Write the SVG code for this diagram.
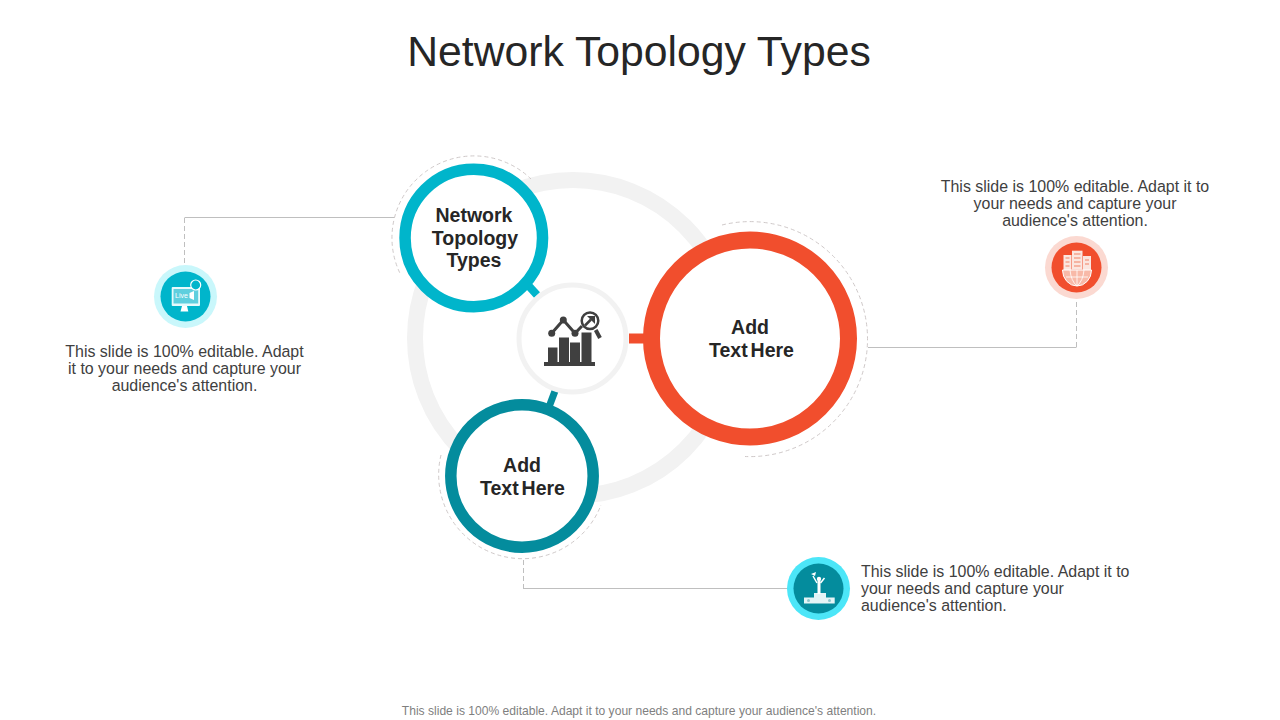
<svg xmlns="http://www.w3.org/2000/svg" width="1280" height="720" viewBox="0 0 1280 720">
<style>
text{font-family:"Liberation Sans",Arial,sans-serif;text-anchor:middle}
.body{font-size:15.95px;fill:#404040}
.lab{font-size:19.5px;font-weight:bold;fill:#262626}
.tight{word-spacing:-2.500px}
.conn{fill:none;stroke:#bfbfbf;stroke-width:1}
.stub{fill:none;stroke:#bfbfbf;stroke-width:1;stroke-dasharray:5 3}
.dash{fill:none;stroke:#cfc9c9;stroke-width:1;stroke-dasharray:4 3}
</style>
<rect width="1280" height="720" fill="#fff"/>
<text id="title" x="639" y="66" font-size="42.7" fill="#262626">Network Topology Types</text>
<g id="hub-ring"><circle cx="573" cy="338" r="158" fill="none" stroke="#f2f2f2" stroke-width="16"/></g>
<g id="connectors">
<path class="conn" d="M394 217.500H184.500"/>
<path class="stub" d="M184.500 218V265"/>
<path class="conn" d="M868 347.500H1076.500"/>
<path class="stub" d="M1076.500 347V300"/>
<path class="stub" d="M523.500 560V588"/>
<path class="conn" d="M523 588.500H788"/>
<path d="M527 284L537 295" stroke="#00b5cb" stroke-width="8" fill="none"/>
<path d="M555 391L549 407" stroke="#048c9d" stroke-width="7" fill="none"/>
<path d="M629 338.500H645" stroke="#f14e2d" stroke-width="10" fill="none"/>
</g>
<g id="center">
<circle cx="572.500" cy="338.500" r="53.500" fill="#fff" stroke="#f2f2f2" stroke-width="5"/>
<g fill="#404040">
<rect x="544" y="362" width="51" height="4"/>
<rect x="548" y="347.500" width="9.500" height="15"/>
<rect x="559" y="337.500" width="10" height="25"/>
<rect x="570" y="342.500" width="10" height="20"/>
<rect x="581.500" y="332.500" width="10" height="30"/>
<circle cx="551.700" cy="333.300" r="3.500"/>
<circle cx="563.300" cy="320" r="3.500"/>
<circle cx="575" cy="333.300" r="3.500"/>
</g>
<path d="M551.700 333.300L563.300 320L575 333.300L582 326" fill="none" stroke="#404040" stroke-width="3"/>
<circle cx="590" cy="320.700" r="8.300" fill="#fff" stroke="#404040" stroke-width="2.500"/>
<path d="M595.700 330L600 338" stroke="#404040" stroke-width="4" fill="none"/>
<path d="M585 325.500L591 319.500" stroke="#404040" stroke-width="2.500" fill="none"/>
<path d="M587 316H595V324Z" fill="#404040"/>
</g>
<g id="node-network">
<path class="dash" d="M399.700 272.700A82 82 0 0 1 531 179"/>
<circle cx="473.800" cy="238" r="68.750" fill="#fff" stroke="#00b5cb" stroke-width="11.500"/>
<text class="lab" x="474" y="222">Network</text>
<text class="lab" x="475" y="245">Topology</text>
<text class="lab" x="474" y="267">Types</text>
</g>
<g id="node-orange">
<path class="dash" d="M722 225A117.500 117.500 0 1 1 745 456.500"/>
<circle cx="750" cy="338.500" r="98.500" fill="#fff" stroke="#f14e2d" stroke-width="17"/>
<text class="lab" x="750" y="334">Add</text>
<text class="lab tight" x="751.500" y="357">Text Here</text>
</g>
<g id="node-teal">
<path class="dash" d="M441 455A84 84 0 0 0 601 505"/>
<circle cx="522" cy="476" r="71.200" fill="#fff" stroke="#048c9d" stroke-width="11.500"/>
<text class="lab" x="522" y="472">Add</text>
<text class="lab tight" x="522.500" y="495">Text Here</text>
</g>
<g id="note-left">
<circle cx="185.500" cy="296.500" r="31.500" fill="#c9f7fb"/>
<circle cx="185.500" cy="296.500" r="25" fill="#00b5cb"/>
<rect x="171.700" y="287" width="28.300" height="19" rx="1" fill="#e6fafc"/>
<rect x="173.500" y="289" width="24.700" height="14.500" fill="#5fcfde"/>
<text x="181.500" y="298" font-size="7" fill="#fff">Live</text>
<path d="M189.500 293L194 291V300L189.500 298Z" fill="#fff"/>
<path d="M182 306H187L188.300 311.500H180.500Z" fill="#fff"/>
<circle cx="195.700" cy="285" r="5" fill="#00b5cb" stroke="#fff" stroke-width="1.200"/>
<text class="body" x="184.500" y="357">This slide is 100% editable. Adapt</text>
<text class="body" x="184.500" y="374">it to your needs and capture your</text>
<text class="body" x="184.500" y="391">audience's attention.</text>
</g>
<g id="note-right">
<circle cx="1076.500" cy="267.500" r="31.500" fill="#fbd9d1"/>
<circle cx="1076.500" cy="267.500" r="25" fill="#f14e2d"/>
<g fill="#fbe6df">
<rect x="1063.500" y="255" width="8" height="15"/>
<rect x="1072" y="250.700" width="10.500" height="19"/>
<rect x="1083" y="256" width="8" height="14"/>
</g>
<path d="M1065.500 258H1069.500M1065.500 262H1069.500M1065.500 266H1069.500M1074 254H1080.500M1074 258H1080.500M1074 262H1080.500M1074 266H1080.500M1085 260H1089M1085 264H1089" stroke="#f5a48f" stroke-width="1.500" fill="none"/>
<path d="M1062.500 270H1091.500A14.500 16 0 0 1 1062.500 270Z" fill="#f8b9a8" stroke="#fff" stroke-width="1"/>
<path d="M1077 270V286M1066 277H1088M1070 270Q1071 281 1077 286M1084 270Q1083 281 1077 286" stroke="#fff" stroke-width=".8" fill="none"/>
<text class="body" x="1075" y="192">This slide is 100% editable. Adapt it to</text>
<text class="body" x="1075" y="209">your needs and capture your</text>
<text class="body" x="1075" y="226">audience's attention.</text>
</g>
<g id="note-bottom">
<circle cx="818.500" cy="588.500" r="31.500" fill="#4ce6f8"/>
<circle cx="818.500" cy="588.500" r="25" fill="#048c9d"/>
<g fill="#fff">
<path d="M804 597.500H814V593H826V597.500H834.700V603.500H804Z" fill="#e4f4f6"/>
<circle cx="819" cy="579" r="2.200"/>
<rect x="817.500" y="581" width="3" height="13"/>
<path d="M811 574L816 572L815 576Z"/>
</g>
<path d="M813 576L817 583M824.500 578L820.500 583" stroke="#fff" stroke-width="1.500" fill="none"/>
<circle cx="808.500" cy="600.500" r="1.500" fill="#8cc6ce"/>
<circle cx="829.500" cy="600.500" r="1.500" fill="#8cc6ce"/>
<text class="body" x="861" y="577" style="text-anchor:start">This slide is 100% editable. Adapt it to</text>
<text class="body" x="861" y="594" style="text-anchor:start">your needs and capture your</text>
<text class="body" x="861" y="611" style="text-anchor:start">audience's attention.</text>
</g>
<text id="footer" x="639" y="715" font-size="12.08" fill="#7f7f7f">This slide is 100% editable. Adapt it to your needs and capture your audience's attention.</text>
</svg>
